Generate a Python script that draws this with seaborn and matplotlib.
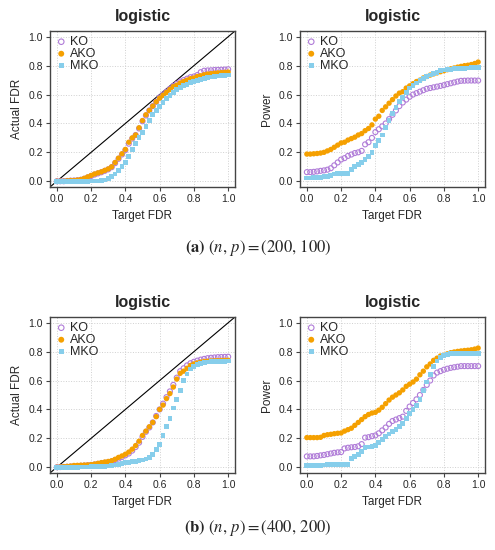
import numpy as np
import pandas as pd
import matplotlib
matplotlib.use("Agg")
import matplotlib.pyplot as plt
import seaborn as sns

# target FDR grid
target = np.round(np.linspace(0, 1, 51), 2)

# (a) n=200, p=100 : actual FDR
a_fdr_ko = [0, 0, 0, .002, .004, .005, .007, .01, .017, .026,
            .036, .046, .054, .062, .072, .082, .097, .125, .155, .185,
            .215, .26, .295, .32, .365, .415, .455, .49, .52, .55,
            .58, .60, .62, .64, .66, .675, .69, .70, .71, .72,
            .725, .735, .755, .765, .767, .768, .77, .771, .772, .773, .775]
a_fdr_ako = [0, 0, 0, .003, .005, .005, .008, .012, .02, .03,
             .04, .05, .058, .065, .075, .085, .10, .13, .16, .19,
             .22, .27, .30, .32, .37, .42, .46, .49, .52, .55,
             .575, .595, .615, .635, .655, .665, .68, .69, .70, .71,
             .715, .725, .73, .737, .742, .745, .748, .75, .752, .754, .756]
a_fdr_mko = [0, 0, 0, 0, 0, 0, 0, 0, 0, 0,
             .001, .001, .002, .003, .008, .018, .03, .05, .075, .10,
             .13, .17, .22, .26, .30, .34, .38, .42, .46, .49,
             .52, .545, .57, .595, .615, .635, .65, .662, .672, .682,
             .69, .698, .705, .712, .718, .722, .726, .729, .731, .733, .735]

# (a) power
a_pow_ko = [.063, .063, .065, .068, .072, .075, .08, .09, .11, .13,
            .15, .16, .175, .185, .195, .20, .21, .255, .27, .30,
            .34, .36, .38, .40, .43, .46, .49, .52, .545, .565,
            .585, .60, .61, .62, .63, .64, .645, .65, .655, .66,
            .665, .672, .678, .684, .69, .695, .696, .697, .697, .697, .697]
a_pow_ako = [.188, .188, .19, .192, .195, .20, .21, .22, .235, .25,
             .265, .27, .285, .295, .305, .32, .33, .35, .365, .39,
             .43, .45, .49, .515, .54, .565, .59, .61, .62, .645,
             .66, .675, .69, .70, .715, .725, .735, .743, .75, .758,
             .765, .772, .778, .784, .79, .795, .80, .803, .808, .815, .825]
a_pow_mko = [.022, .022, .024, .026, .028, .03, .035, .042, .05, .055,
             .055, .055, .055, .08, .10, .115, .13, .15, .17, .20,
             .25, .28, .32, .37, .42, .47, .51, .55, .58, .615,
             .645, .66, .68, .695, .71, .725, .735, .745, .755, .765,
             .77, .773, .776, .778, .78, .782, .783, .784, .785, .786, .786]

# (b) n=400, p=200 : actual FDR
b_fdr_ko = [0, .001, .002, .003, .005, .007, .008, .01, .012, .014,
            .016, .019, .023, .027, .031, .035, .04, .05, .06, .07,
            .082, .095, .115, .14, .17, .21, .245, .275, .31, .355,
            .40, .44, .485, .525, .57, .62, .665, .685, .705, .72,
            .73, .738, .745, .75, .755, .758, .76, .762, .763, .764, .765]
b_fdr_ako = [0, .002, .004, .006, .008, .012, .013, .014, .015, .016,
             .018, .022, .027, .032, .036, .04, .045, .055, .068, .078,
             .09, .105, .125, .15, .18, .22, .25, .28, .31, .35,
             .40, .43, .475, .51, .555, .61, .65, .665, .685, .705,
             .715, .722, .728, .732, .734, .736, .737, .738, .739, .74, .74]
b_fdr_mko = [0, 0, 0, 0, 0, 0, 0, .001, .001, .002,
             .003, .004, .005, .006, .007, .008, .012, .016, .02, .025,
             .03, .033, .037, .04, .045, .05, .057, .065, .09, .12,
             .16, .22, .28, .34, .41, .47, .53, .60, .645, .68,
             .70, .712, .72, .725, .728, .73, .731, .732, .733, .734, .735]

# (b) power
b_pow_ko = [.075, .075, .075, .078, .082, .085, .09, .095, .10, .103,
            .105, .13, .135, .138, .14, .145, .16, .205, .208, .215,
            .22, .235, .255, .275, .30, .32, .33, .34, .35, .39,
            .42, .445, .47, .50, .535, .57, .60, .635, .655, .665,
            .675, .682, .688, .692, .696, .70, .70, .70, .70, .70, .70]
b_pow_ako = [.205, .205, .205, .205, .207, .22, .225, .228, .232, .235,
             .237, .25, .26, .27, .29, .31, .33, .35, .365, .375,
             .38, .395, .415, .44, .465, .485, .50, .515, .535, .56,
             .575, .59, .61, .64, .665, .695, .715, .74, .755, .77,
             .775, .785, .793, .798, .802, .805, .808, .81, .813, .818, .825]
b_pow_mko = [.012, .012, .012, .013, .014, .015, .017, .018, .019, .02,
             .02, .02, .02, .06, .075, .09, .11, .135, .14, .145,
             .15, .17, .19, .21, .23, .245, .26, .28, .30, .34,
             .37, .40, .43, .47, .53, .59, .64, .70, .735, .76,
             .775, .783, .788, .79, .79, .79, .79, .79, .79, .79, .79]

methods = ["KO", "AKO", "MKO"]
colors = {"KO": "#B07CD8", "AKO": "#F5A000", "MKO": "#87CEEB"}

panels = [
    (a_fdr_ko, a_fdr_ako, a_fdr_mko, "Actual FDR", True),
    (a_pow_ko, a_pow_ako, a_pow_mko, "Power", False),
    (b_fdr_ko, b_fdr_ako, b_fdr_mko, "Actual FDR", True),
    (b_pow_ko, b_pow_ako, b_pow_mko, "Power", False),
]

sns.set_theme(style="ticks")
plt.rcParams["font.family"] = ["Liberation Sans", "DejaVu Sans"]
plt.rcParams["mathtext.fontset"] = "stix"

fig = plt.figure(figsize=(4.95, 5.5), dpi=100)
W, H = 495, 550
boxes = [(50, 31), (300, 31), (50, 317), (300, 317)]

for (ko, ako, mko, ylab, diag), (px, py) in zip(panels, boxes):
    ax = fig.add_axes([px / W, 1 - (py + 156) / H, 185 / W, 156 / H])
    df = pd.DataFrame({"target": np.tile(target, 3),
                       "value": np.concatenate([ko, ako, mko]),
                       "method": np.repeat(methods, len(target))})
    if diag:
        ax.axline((0, 0), slope=1, color="black", lw=0.8, zorder=1)
    for m in methods:
        d = df[df["method"] == m]
        if m == "KO":
            sns.scatterplot(data=d, x="target", y="value", ax=ax, marker="o",
                            color=colors[m], facecolors="none", edgecolor=colors[m],
                            linewidth=0.8, s=13, label=m, zorder=3)
        elif m == "AKO":
            sns.scatterplot(data=d, x="target", y="value", ax=ax, marker="o",
                            color=colors[m], edgecolor="none", s=15, label=m, zorder=3)
        else:
            sns.scatterplot(data=d, x="target", y="value", ax=ax, marker="s",
                            color=colors[m], edgecolor="none", s=12, label=m, zorder=3)
    ax.set_xlim(-0.04, 1.04)
    ax.set_ylim(-0.04, 1.04)
    ticks = [0, 0.2, 0.4, 0.6, 0.8, 1.0]
    ax.set_xticks(ticks)
    ax.set_yticks(ticks)
    ax.set_xticklabels([f"{t:.1f}" for t in ticks])
    ax.set_yticklabels([f"{t:.1f}" for t in ticks])
    ax.tick_params(labelsize=7.5, length=3, width=0.8, color="#444444", pad=2)
    ax.grid(True, color="#d0d0d0", linestyle=":", linewidth=0.7)
    for sp in ax.spines.values():
        sp.set_visible(True)
        sp.set_color("#444444")
        sp.set_linewidth(1.0)
    ax.set_xlabel("Target FDR", fontsize=8.5, labelpad=4)
    ax.set_ylabel(ylab, fontsize=8.5, labelpad=4)
    ax.set_title("logistic", fontsize=11.5, fontweight="bold", pad=7)
    ax.legend(loc="upper left", frameon=False, fontsize=9, markerscale=1.1,
              handletextpad=0.2, labelspacing=0.0, borderaxespad=0.2,
              handlelength=1.0, borderpad=0.2)

fig.text(258 / W, 1 - 248 / H, r"$\mathbf{(a)}\ (n,\,p) = (200,\,100)$",
         ha="center", va="center", fontsize=12)
fig.text(258 / W, 1 - 528 / H, r"$\mathbf{(b)}\ (n,\,p) = (400,\,200)$",
         ha="center", va="center", fontsize=12)

fig.savefig("out.png", dpi=100)
